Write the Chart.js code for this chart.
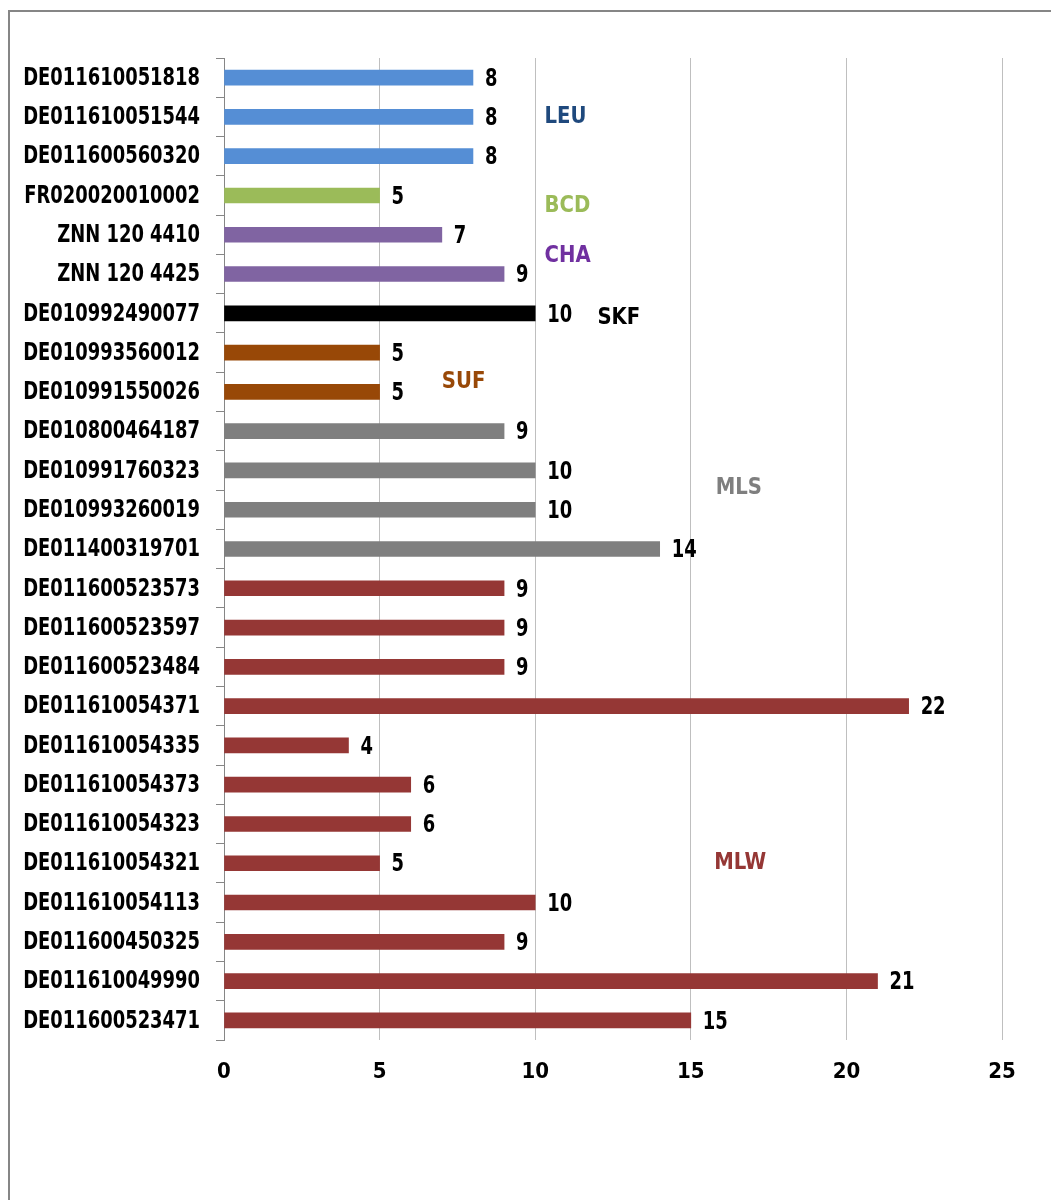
<!DOCTYPE html>
<html>
<head>
<meta charset="utf-8">
<script src="https://cdn.jsdelivr.net/npm/chart.js@4.4.1/dist/chart.umd.min.js"></script>
<style>
    html, body { margin: 0; padding: 0; background: #fff; }
    #wrap { position: relative; width: 1051px; height: 1200px; }
    #frame { position: absolute; left: 8px; top: 10px; width: 1100px; height: 1300px; border-left: 2px solid #868686; border-top: 2px solid #868686; }
    canvas { position: absolute; left: 0; top: 0; }
</style>
</head>
<body>
<div id="wrap">
    <div id="frame"></div>
    <canvas id="chart" width="1051" height="1200"></canvas>
</div>
<script>
// categories, top to bottom
const labels = [
    'DE011610051818', 'DE011610051544', 'DE011600560320', 'FR020020010002',
    'ZNN 120 4410', 'ZNN 120 4425', 'DE010992490077', 'DE010993560012',
    'DE010991550026', 'DE010800464187', 'DE010991760323', 'DE010993260019',
    'DE011400319701', 'DE011600523573', 'DE011600523597', 'DE011600523484',
    'DE011610054371', 'DE011610054335', 'DE011610054373', 'DE011610054323',
    'DE011610054321', 'DE011610054113', 'DE011600450325', 'DE011610049990',
    'DE011600523471'
];
const values = [8, 8, 8, 5, 7, 9, 10, 5, 5, 9, 10, 10, 14, 9, 9, 9, 22, 4, 6, 6, 5, 10, 9, 21, 15];
const groups = ['LEU', 'LEU', 'LEU', 'BCD', 'CHA', 'CHA', 'SKF', 'SUF', 'SUF', 'MLS', 'MLS', 'MLS', 'MLS',
    'MLW', 'MLW', 'MLW', 'MLW', 'MLW', 'MLW', 'MLW', 'MLW', 'MLW', 'MLW', 'MLW', 'MLW'];
const xTicks = [0, 5, 10, 15, 20, 25];

// group names written inside the plot (x value, category position)
const groupNames = ['LEU', 'BCD', 'CHA', 'SKF', 'SUF', 'MLS', 'MLW'];
const groupX = [10.3, 10.3, 10.3, 12.0, 7.0, 15.8, 15.75];
const groupY = [1.0, 3.27, 4.54, 6.12, 7.75, 10.45, 19.99];

const barColors = { LEU: '#558ED5', BCD: '#9BBB59', CHA: '#8064A2', SKF: '#000000', SUF: '#984807', MLS: '#7F7F7F', MLW: '#953735' };
const textColors = { LEU: '#1F497D', BCD: '#9BBB59', CHA: '#7030A0', SKF: '#000000', SUF: '#984807', MLS: '#7F7F7F', MLW: '#953735' };

const FONT = '"DejaVu Sans Condensed", "DejaVu Sans", sans-serif';
const NARROW = 0.83; // the original font is narrower than anything installed

function narrowText(ctx, text, x, y, align, squeeze) {
    ctx.save();
    ctx.translate(x, y);
    ctx.scale(squeeze, 1);
    ctx.textAlign = align;
    ctx.fillText(text, 0, 0);
    ctx.restore();
}

const textLayer = {
    id: 'textLayer',
    afterDatasetsDraw(chart) {
        const ctx = chart.ctx;
        const meta = chart.getDatasetMeta(0);
        const xs = chart.scales.x;
        const ys = chart.scales.y;
        ctx.save();
        ctx.font = 'bold 24px ' + FONT;
        ctx.textBaseline = 'middle';
        ctx.fillStyle = '#000';
        // category names
        labels.forEach((name, i) => {
            narrowText(ctx, name, 200, ys.getPixelForValue(i) + 1, 'right', NARROW);
        });
        // value labels
        meta.data.forEach((bar, i) => {
            narrowText(ctx, String(values[i]), bar.x + 12, bar.y + 2, 'left', NARROW);
        });
        // group names
        ctx.font = 'bold 23px ' + FONT;
        groupNames.forEach((name, i) => {
            ctx.fillStyle = textColors[name];
            narrowText(ctx, name, xs.getPixelForValue(groupX[i]), ys.getPixelForValue(groupY[i]), 'left', 0.95);
        });
        ctx.restore();
    }
};

new Chart(document.getElementById('chart'), {
    type: 'bar',
    data: {
        labels: labels,
        datasets: [{
            data: values,
            backgroundColor: groups.map(g => barColors[g]),
            barThickness: 15
        }]
    },
    options: {
        indexAxis: 'y',
        responsive: false,
        animation: false,
        layout: { padding: { top: 58, right: 49, left: 0, bottom: 0 } },
        plugins: { legend: { display: false }, tooltip: { enabled: false } },
        scales: {
            x: {
                min: 0,
                max: 25,
                afterBuildTicks(scale) {
                    scale.ticks = xTicks.map(v => ({ value: v }));
                },
                afterFit(scale) { scale.height = 160; },
                grid: { color: '#BFBFBF', lineWidth: 1, drawTicks: false },
                border: { display: false },
                ticks: { color: '#000', padding: 19, font: { family: FONT, size: 22, weight: 'bold' } }
            },
            y: {
                afterFit(scale) { scale.width = 224; },
                grid: { drawOnChartArea: false, drawTicks: true, tickLength: 8, color: '#868686', offset: true },
                border: { display: true, color: '#868686', width: 1 },
                ticks: { display: false, autoSkip: false }
            }
        }
    },
    plugins: [textLayer]
});
</script>
</body>
</html>
